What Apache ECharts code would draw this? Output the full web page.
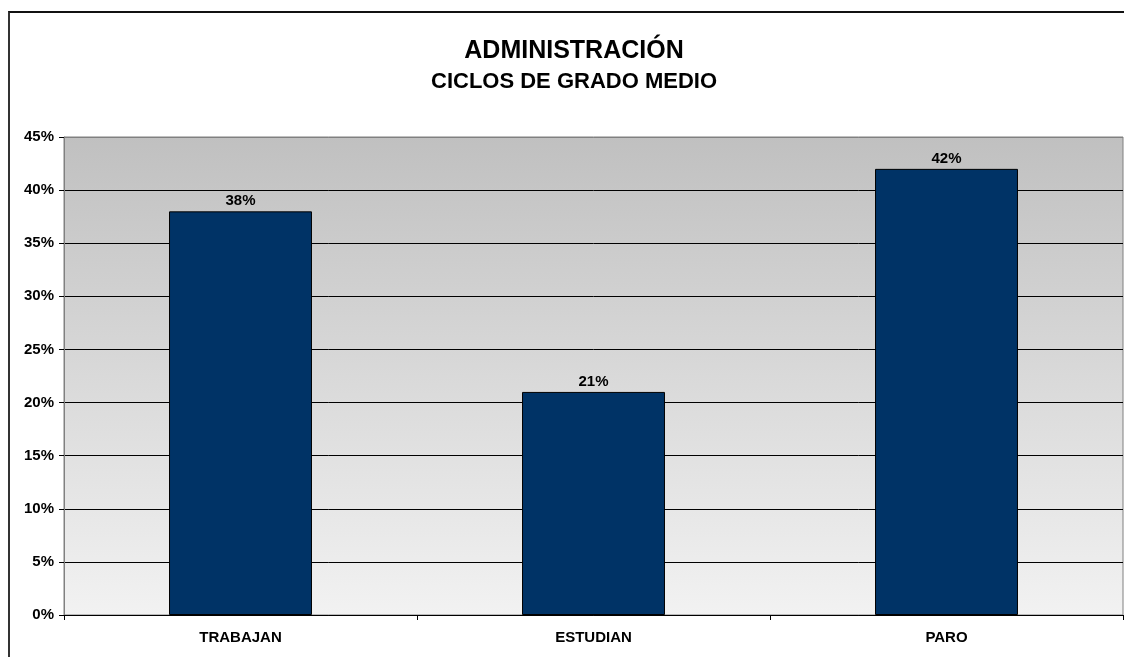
<!DOCTYPE html>
<html>
<head>
<meta charset="utf-8">
<script src="https://cdn.jsdelivr.net/npm/echarts@6/dist/echarts.min.js"></script>
<style>
html,body{margin:0;padding:0;background:#fff;overflow:hidden;}
#frame{position:absolute;left:8px;top:11px;width:1300px;height:800px;border-left:2px solid #333;border-top:2px solid #111;box-sizing:border-box;pointer-events:none;z-index:2;}
#chart{position:absolute;left:0;top:0;width:1124px;height:657px;}
</style>
</head>
<body>
<div id="chart"></div>
<div id="frame"></div>
<script>
const titleText = 'ADMINISTRACIÓN';
const subtitleText = 'CICLOS DE GRADO MEDIO';
const categories = ['TRABAJAN', 'ESTUDIAN', 'PARO'];
const values = [38, 21, 42];
const yTicks = [0, 5, 10, 15, 20, 25, 30, 35, 40, 45];

const chart = echarts.init(document.getElementById('chart'), null, {renderer: 'canvas'});
const font = 'Liberation Sans, Arial, sans-serif';
const splitColors = yTicks.map((t, i) => i === yTicks.length - 1 ? '#808080' : '#000');
chart.setOption({
  animation: false,
  title: {
    text: titleText,
    subtext: subtitleText,
    left: 569,
    textAlign: 'center',
    top: 34,
    itemGap: 7,
    textStyle: {fontFamily: font, fontWeight: 'bold', fontSize: 25, color: '#000'},
    subtextStyle: {fontFamily: font, fontWeight: 'bold', fontSize: 22, color: '#000'}
  },
  grid: {
    left: 64, right: 1, top: 137, bottom: 42,
    show: true,
    borderColor: '#808080', borderWidth: 1,
    backgroundColor: new echarts.graphic.LinearGradient(0, 0, 0, 1, [
      {offset: 0, color: '#c0c0c0'},
      {offset: 1, color: '#f2f2f2'}
    ])
  },
  xAxis: {
    type: 'category',
    data: categories,
    axisLine: {lineStyle: {color: '#000', width: 1}},
    axisTick: {show: true, length: 5, lineStyle: {color: '#000'}},
    axisLabel: {fontFamily: font, fontWeight: 'bold', fontSize: 15, color: '#000', margin: 15}
  },
  yAxis: {
    type: 'value',
    min: yTicks[0], max: yTicks[yTicks.length - 1], interval: 5,
    axisLine: {show: true, lineStyle: {color: '#808080'}},
    axisTick: {show: true, length: 5, lineStyle: {color: '#000'}},
    splitLine: {lineStyle: {color: splitColors, width: 1}},
    axisLabel: {fontFamily: font, fontWeight: 'bold', fontSize: 15, color: '#000', margin: 10,
      formatter: v => v + '%'}
  },
  series: [{
    type: 'bar',
    data: values,
    barWidth: '40.5%',
    itemStyle: {color: '#003366', borderColor: '#000', borderWidth: 1},
    label: {
      show: true, position: 'top', distance: 3,
      fontFamily: font, fontWeight: 'bold', fontSize: 15, color: '#000',
      formatter: p => p.value + '%'
    }
  }]
});
</script>
</body>
</html>
